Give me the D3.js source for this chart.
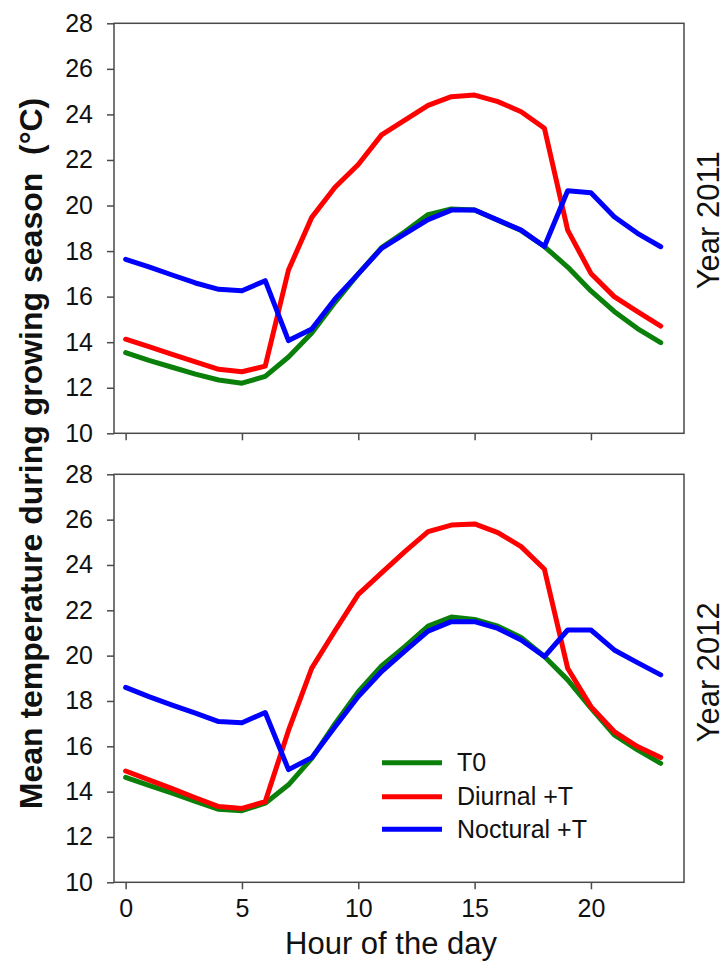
<!DOCTYPE html>
<html>
<head>
<meta charset="utf-8">
<script src="https://cdn.jsdelivr.net/npm/d3@7"></script>
<style>
  html, body { margin: 0; padding: 0; background: #fff; }
  svg { display: block; }
  text { font-family: "Liberation Sans", Arial, sans-serif; fill: #111; }
</style>
</head>
<body>
<svg id="chart" width="727" height="968"></svg>
<script>
// Hourly mean temperature (°C) during the growing season
const hours = d3.range(0, 24);

const t0_2011 = [13.54, 13.2, 12.9, 12.6, 12.34, 12.2, 12.5, 13.35, 14.4, 15.75, 17.0, 18.15, 18.85, 19.6, 19.85, 19.8, 19.35, 18.9, 18.2, 17.3, 16.25, 15.35, 14.6, 13.98];
const diurnal_2011 = [14.13, 13.8, 13.47, 13.14, 12.81, 12.7, 12.95, 17.17, 19.48, 20.8, 21.8, 23.1, 23.75, 24.4, 24.78, 24.85, 24.56, 24.12, 23.39, 18.92, 17.02, 16.0, 15.34, 14.71];
const noct_2011 = [17.64, 17.31, 16.95, 16.6, 16.32, 16.26, 16.7, 14.07, 14.58, 15.9, 17.0, 18.12, 18.75, 19.38, 19.8, 19.8, 19.36, 18.92, 18.2, 20.65, 20.56, 19.51, 18.78, 18.19];

const t0_2012 = [14.63, 14.28, 13.93, 13.57, 13.22, 13.16, 13.49, 14.3, 15.47, 17.0, 18.41, 19.55, 20.4, 21.3, 21.7, 21.6, 21.3, 20.8, 19.96, 18.93, 17.68, 16.5, 15.84, 15.25];
const diurnal_2012 = [14.91, 14.52, 14.13, 13.73, 13.34, 13.26, 13.56, 16.7, 19.45, 21.1, 22.7, 23.65, 24.59, 25.47, 25.76, 25.81, 25.43, 24.81, 23.81, 19.44, 17.75, 16.65, 15.99, 15.51];
const noct_2012 = [18.6, 18.19, 17.82, 17.46, 17.09, 17.04, 17.49, 14.97, 15.5, 16.86, 18.2, 19.3, 20.2, 21.08, 21.5, 21.5, 21.2, 20.69, 19.96, 21.13, 21.13, 20.25, 19.69, 19.15];

const seriesNames = ["T0", "Diurnal +T", "Noctural +T"];
const seriesColors = ["#0a800a", "#ff0000", "#0000ff"];
const yTicks = [10, 12, 14, 16, 18, 20, 22, 24, 26, 28];
const xTicks = [0, 5, 10, 15, 20];
const panelLabels = ["Year 2011", "Year 2012"];

const panels = [
  { label: panelLabels[0], series: [t0_2011, diurnal_2011, noct_2011], top: 23.3, bottom: 433.3, showX: false, legend: false },
  { label: panelLabels[1], series: [t0_2012, diurnal_2012, noct_2012], top: 474.3, bottom: 882.3, showX: true, legend: true }
];

const svg = d3.select("#chart");
const left = 114, right = 684;
const x = d3.scaleLinear().domain([-0.5, 24]).range([left, right]);

const frameColor = "#4a4a4a";

panels.forEach(p => {
  const y = d3.scaleLinear().domain([10, 28]).range([p.bottom, p.top]);
  const g = svg.append("g");

  // frame
  g.append("rect")
    .attr("x", left).attr("y", p.top)
    .attr("width", right - left).attr("height", p.bottom - p.top)
    .attr("fill", "none").attr("stroke", frameColor).attr("stroke-width", 1.5);

  // y axis
  const yAxis = g.append("g").attr("transform", `translate(${left},0)`)
    .call(d3.axisLeft(y).tickValues(yTicks).tickSize(7).tickPadding(14).tickFormat(d3.format("d")));
  yAxis.select(".domain").remove();
  yAxis.selectAll("line").attr("stroke", frameColor).attr("stroke-width", 1.5);
  yAxis.selectAll("text").attr("font-size", 25).attr("fill", "#111").attr("font-family", "Liberation Sans, Arial, sans-serif");

  // x axis
  const xAxis = g.append("g").attr("transform", `translate(0,${p.bottom})`)
    .call(d3.axisBottom(x).tickValues(xTicks).tickSize(7).tickPadding(10).tickFormat(p.showX ? d3.format("d") : () => ""));
  xAxis.select(".domain").remove();
  xAxis.selectAll("line").attr("stroke", frameColor).attr("stroke-width", 1.5);
  xAxis.selectAll("text").attr("font-size", 25).attr("fill", "#111").attr("font-family", "Liberation Sans, Arial, sans-serif");

  // series lines
  const line = d3.line().x((d, i) => x(hours[i])).y(d => y(d));
  p.series.forEach((s, k) => {
    g.append("path")
      .datum(s)
      .attr("d", line)
      .attr("fill", "none")
      .attr("stroke", seriesColors[k])
      .attr("stroke-width", 5)
      .attr("stroke-linejoin", "round")
      .attr("stroke-linecap", "round");
  });

  // right-hand panel label
  const cy = (p.top + p.bottom) / 2;
  g.append("text")
    .attr("transform", `translate(719,${cy + (p.showX ? -6 : -8)}) rotate(-90)`)
    .attr("text-anchor", "middle")
    .attr("font-size", 31)
    .text(p.label);

  if (p.legend) {
    const lg = g.append("g");
    const rows = [762.7, 796.7, 829.3];
    seriesNames.forEach((n, k) => {
      lg.append("line")
        .attr("x1", 382).attr("x2", 442)
        .attr("y1", rows[k]).attr("y2", rows[k])
        .attr("stroke", seriesColors[k]).attr("stroke-width", 5);
      lg.append("text")
        .attr("x", 457).attr("y", rows[k])
        .attr("dy", "0.35em")
        .attr("font-size", 25)
        .text(n);
    });
  }
});

// axis titles
svg.append("text")
  .attr("x", 391).attr("y", 954)
  .attr("text-anchor", "middle")
  .attr("font-size", 31)
  .text("Hour of the day");

svg.append("text")
  .attr("transform", "translate(42,453.5) rotate(-90)")
  .attr("text-anchor", "middle")
  .attr("font-size", 32)
  .attr("font-weight", "bold")
  .style("white-space", "pre")
  .text("Mean temperature during growing season  (°C)");
</script>
</body>
</html>
